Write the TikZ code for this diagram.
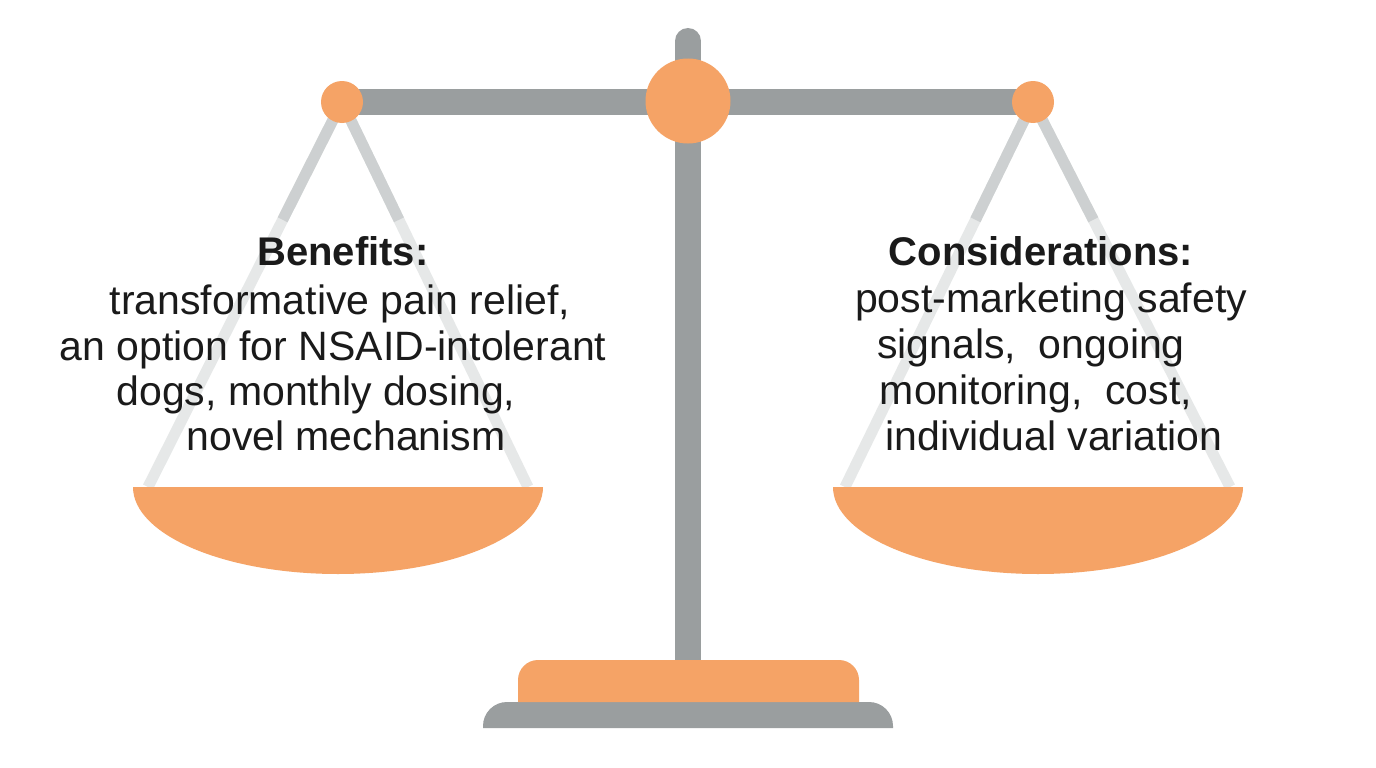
\documentclass[tikz,border=0pt]{standalone}
\usepackage{fontspec}
\setmainfont{Liberation Sans}
\usetikzlibrary{calc}
\definecolor{orng}{HTML}{F5A366}
\definecolor{barg}{HTML}{9A9E9F}
\definecolor{strg}{HTML}{CDD0D1}
\definecolor{strl}{HTML}{E6E8E8}
\definecolor{txtc}{HTML}{1A1A1A}
\begin{document}
\begin{tikzpicture}[x=1pt,y=-1pt,
  pivot/.style={circle,fill=orng,inner sep=0pt},
  stringup/.style={draw=strg,line width=11pt},
  stringlow/.style={draw=strl,line width=11pt},
  panshape/.style={fill=orng},
  txtline/.style={anchor=base,inner sep=0pt,text=txtc,font=\fontsize{41}{49}\selectfont},
  txthead/.style={anchor=base,inner sep=0pt,text=txtc,font=\bfseries\fontsize{40}{49}\selectfont}]
\useasboundingbox[fill=white] (0,0) rectangle (1376,768);

% pivots
\coordinate (Lp) at (342,102);
\coordinate (Rp) at (1033,102);
\coordinate (Cp) at (688,101);
% pan corners
\coordinate (LpanL) at (133,487);
\coordinate (LpanR) at (543,487);
\coordinate (RpanL) at (833,487);
\coordinate (RpanR) at (1243,487);
\coordinate (LsL) at (148,487);
\coordinate (LsR) at (528,487);
\coordinate (RsL) at (845,487);
\coordinate (RsR) at (1230,487);

% strings
\draw[stringlow] (Lp) -- (LsL);
\draw[stringlow] (Lp) -- (LsR);
\draw[stringlow] (Rp) -- (RsL);
\draw[stringlow] (Rp) -- (RsR);
\draw[stringup] (Lp) -- ($(Lp)!0.306!(LsL)$);
\draw[stringup] (Lp) -- ($(Lp)!0.306!(LsR)$);
\draw[stringup] (Rp) -- ($(Rp)!0.306!(RsL)$);
\draw[stringup] (Rp) -- ($(Rp)!0.306!(RsR)$);

% beam and pole
\draw[barg,line width=26pt] (Lp) -- (Rp);
\coordinate (poletop) at (688,41);
\coordinate (polebot) at (688,662);
\draw[barg,line width=26pt,line cap=round] (poletop) -- (688,560);
\draw[barg,line width=26pt] (688,560) -- (polebot);

% pivot circles
\node[pivot,minimum size=42pt] (lpiv) at (Lp) {};
\node[pivot,minimum size=42pt] (rpiv) at (Rp) {};
\node[pivot,minimum size=85pt] (cpiv) at (Cp) {};

% pans
\fill[panshape] (LpanL) -- (LpanR) .. controls (543,535) and (451,574) .. (338,574)
  .. controls (225,574) and (133,535) .. (LpanL) -- cycle;
\fill[panshape] (RpanL) -- (RpanR) .. controls (1243,535) and (1151,574) .. (1038,574)
  .. controls (925,574) and (833,535) .. (RpanL) -- cycle;

% base
\fill[barg] (483,728) -- (483,726) arc[start angle=180,end angle=270,radius=24]
  -- (869,702) arc[start angle=270,end angle=360,radius=24] -- (893,728) -- cycle;
\fill[orng] (518,702) -- (518,680) arc[start angle=180,end angle=270,radius=20]
  -- (839,660) arc[start angle=270,end angle=360,radius=20] -- (859,702) -- cycle;

% texts
\node[txthead] (bh) at (343,265) {Benefits:};
\node[txtline] (b1) at (340,314) {transformative pain relief,};
\node[txtline] (b2) at (333,360) {an option for NSAID-intolerant};
\node[txtline] (b3) at (316,405) {dogs, monthly dosing,};
\node[txtline] (b4) at (346,450) {novel mechanism};

\node[txthead] (ch) at (1041,265) {Considerations:};
\node[txtline] (c1) at (1051,312) {post-marketing safety};
\node[txtline] (c2) at (1031,358) {signals,\ \ ongoing};
\node[txtline] (c3) at (1036,404) {monitoring,\ \ cost,};
\node[txtline] (c4) at (1054,450) {individual variation};
\end{tikzpicture}
\end{document}
